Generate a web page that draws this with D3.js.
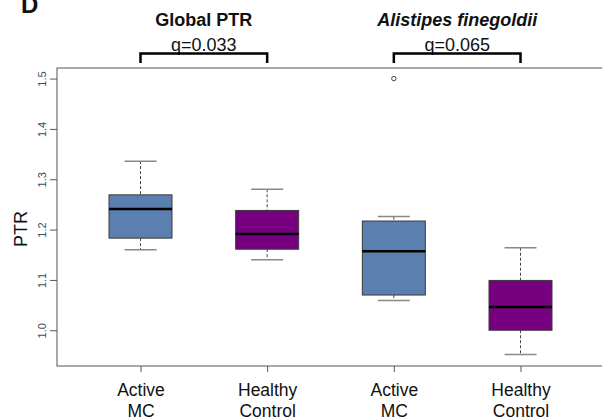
<!DOCTYPE html>
<html>
<head>
<meta charset="utf-8">
<script src="https://cdn.jsdelivr.net/npm/d3@7"></script>
<style>
  html, body { margin: 0; padding: 0; background: #fff; }
  svg { display: block; font-family: "Liberation Sans", Arial, sans-serif; }
</style>
</head>
<body>
<svg id="chart" width="602" height="418"></svg>
<script>
// Box summaries for PTR: global and Alistipes finegoldii, Active MC vs Healthy Control
const panels = ["Global PTR", "Alistipes finegoldii"];
const qValues = ["q=0.033", "q=0.065"];
const groupLabels = [["Active", "MC"], ["Healthy", "Control"], ["Active", "MC"], ["Healthy", "Control"]];
const groupPanel = [0, 0, 1, 1];
const groupKind = ["active", "healthy", "active", "healthy"];
const whiskerLow = [1.160, 1.140, 1.059, 0.952];
const q1 = [1.183, 1.161, 1.070, 1.000];
const median = [1.241, 1.191, 1.157, 1.046];
const q3 = [1.269, 1.238, 1.217, 1.099];
const whiskerHigh = [1.336, 1.280, 1.226, 1.164];
const outliers = [[], [], [1.500], []];
const yTicks = [1.0, 1.1, 1.2, 1.3, 1.4, 1.5];

const svg = d3.select("#chart");
const plot = { left: 57, top: 68, bottom: 366, right: 700 };

const y = d3.scaleLinear().domain([0.929, 1.521]).range([plot.bottom, plot.top]);
const x = d3.scalePoint().domain(d3.range(4)).range([140.5, 520.5]);
const boxW = 63, capW = 32;
const fills = { active: "#5b80b0", healthy: "#770080" };

// frame (right side runs past the canvas)
svg.append("rect")
  .attr("x", plot.left).attr("y", plot.top)
  .attr("width", plot.right - plot.left).attr("height", plot.bottom - plot.top)
  .attr("fill", "none").attr("stroke", "#555").attr("stroke-width", 1);

// y axis
const yAxis = svg.append("g").attr("transform", `translate(${plot.left},0)`)
  .call(d3.axisLeft(y).tickValues(yTicks).tickFormat(d3.format(".1f")).tickSize(7).tickPadding(0));
yAxis.select(".domain").remove();
yAxis.selectAll(".tick line").attr("stroke", "#555");
yAxis.selectAll(".tick text")
  .attr("transform", "translate(-15,0) rotate(-90)")
  .attr("x", 0).attr("y", 0).attr("dy", "0.35em")
  .attr("text-anchor", "middle")
  .attr("fill", "#3d4a5c").attr("font-size", 11);

// x axis
const xAxis = svg.append("g").attr("transform", `translate(0,${plot.bottom})`)
  .call(d3.axisBottom(x).tickSize(6).tickFormat(""));
xAxis.select(".domain").remove();
xAxis.selectAll(".tick line").attr("stroke", "#555");
xAxis.selectAll(".tick").each(function (d) {
  const t = d3.select(this).append("text")
    .attr("text-anchor", "middle").attr("fill", "#111").attr("font-size", 17.5);
  groupLabels[d].forEach((line, i) => {
    t.append("tspan").attr("x", 0).attr("y", 30 + i * 21).text(line);
  });
});

// y axis title
svg.append("text")
  .attr("transform", `translate(26.5,229) rotate(-90)`)
  .attr("text-anchor", "middle").attr("font-size", 18).attr("fill", "#111")
  .text("PTR");

// boxes
const g = svg.append("g");
d3.range(4).forEach(i => {
  const cx = x(i);
  // dashed whiskers
  g.append("line").attr("x1", cx).attr("x2", cx).attr("y1", y(whiskerHigh[i])).attr("y2", y(q3[i]))
    .attr("stroke", "#444").attr("stroke-dasharray", "3,2");
  g.append("line").attr("x1", cx).attr("x2", cx).attr("y1", y(q1[i])).attr("y2", y(whiskerLow[i]))
    .attr("stroke", "#444").attr("stroke-dasharray", "3,2");
  // whisker caps
  [whiskerHigh[i], whiskerLow[i]].forEach(v => {
    g.append("line").attr("x1", cx - capW / 2).attr("x2", cx + capW / 2)
      .attr("y1", y(v)).attr("y2", y(v)).attr("stroke", "#888").attr("stroke-width", 1.5);
  });
  // box
  g.append("rect")
    .attr("x", cx - boxW / 2).attr("y", y(q3[i]))
    .attr("width", boxW).attr("height", y(q1[i]) - y(q3[i]))
    .attr("fill", fills[groupKind[i]]).attr("stroke", "#3a3a3a").attr("stroke-width", 1);
  // median
  g.append("line").attr("x1", cx - boxW / 2).attr("x2", cx + boxW / 2)
    .attr("y1", y(median[i])).attr("y2", y(median[i]))
    .attr("stroke", "#000").attr("stroke-width", 2.5);
  // outliers
  outliers[i].forEach(v => {
    g.append("circle").attr("cx", cx).attr("cy", y(v)).attr("r", 2.2)
      .attr("fill", "none").attr("stroke", "#444").attr("stroke-width", 1);
  });
});

// panel titles, q-values and comparison brackets
panels.forEach((name, p) => {
  const idx = d3.range(4).filter(i => groupPanel[i] === p);
  const xa = x(idx[0]), xb = x(idx[1]), mid = (xa + xb) / 2;
  svg.append("text")
    .attr("x", mid).attr("y", 26).attr("text-anchor", "middle")
    .attr("font-size", 18).attr("font-weight", "bold")
    .attr("font-style", p === 1 ? "italic" : "normal").attr("fill", "#111")
    .text(name);
  svg.append("text")
    .attr("x", mid).attr("y", 51).attr("text-anchor", "middle")
    .attr("font-size", 18).attr("fill", "#111")
    .text(qValues[p]);
  svg.append("path")
    .attr("d", `M${xa},63 V53.5 H${xb} V63`)
    .attr("fill", "none").attr("stroke", "#000").attr("stroke-width", 2.5);
});

// panel letter
svg.append("text")
  .attr("x", 21).attr("y", 13).attr("font-size", 24).attr("font-weight", "bold")
  .attr("fill", "#111").text("D");
</script>
</body>
</html>
